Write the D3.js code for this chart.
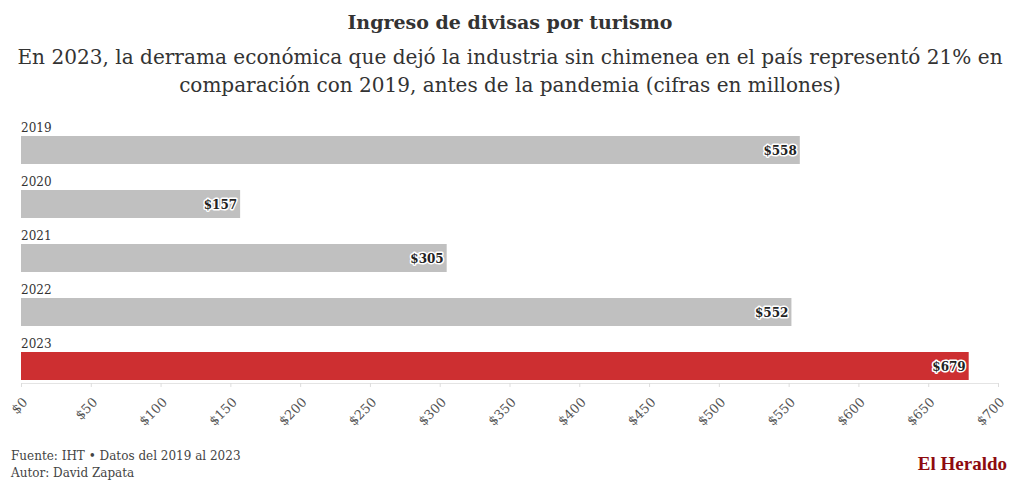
<!DOCTYPE html>
<html><head><meta charset="utf-8">
<script src="https://cdn.jsdelivr.net/npm/d3@7"></script>
<style>
body{margin:0;background:#fff;}
svg text{font-family:"DejaVu Serif",serif;}
</style></head>
<body><svg id="c" width="1020" height="492"></svg>
<script>
const years = ["2019","2020","2021","2022","2023"];
const values = [558,157,305,552,679];
const highlight = ["2023"];
const tickValues = [0,50,100,150,200,250,300,350,400,450,500,550,600,650,700];

const svg = d3.select("#c");
const W = 1020;
const x = d3.scaleLinear().domain([0,700]).range([21,998]);
const y = d3.scaleBand().domain(years).range([136-26,380]).paddingInner(0).paddingOuter(0);

svg.append("text").attr("x",W/2).attr("y",29).attr("text-anchor","middle")
  .attr("font-size",19).attr("font-weight","bold").attr("fill","#333")
  .text("Ingreso de divisas por turismo");
const sub = ["En 2023, la derrama económica que dejó la industria sin chimenea en el país representó 21% en",
  "comparación con 2019, antes de la pandemia (cifras en millones)"];
const subW = [986, 662];
sub.forEach((s,i)=>{
  const t = svg.append("text").attr("x",W/2).attr("y",64+i*28).attr("text-anchor","middle")
    .attr("font-size",20).attr("fill","#333").text(s);
  const len = t.node().getComputedTextLength();
  t.attr("font-size", 20*subW[i]/len);
});

const g = svg.append("g");
g.selectAll("text.yl").data(years).join("text").attr("class","yl")
  .attr("x",21).attr("y",d=>y(d)+22).attr("font-size",12).attr("fill","#333").text(d=>d);

g.selectAll("rect").data(years).join("rect")
  .attr("x",x(0)).attr("y",d=>y(d)+26).attr("height",28)
  .attr("width",(d,i)=>x(values[i])-x(0))
  .attr("fill",d=>highlight.includes(d)?"#cd2f31":"#c0c0c0");

g.selectAll("text.vl").data(years).join("text").attr("class","vl")
  .attr("x",(d,i)=>x(values[i])-3).attr("y",d=>y(d)+26+19).attr("text-anchor","end")
  .attr("font-size",12).attr("font-weight","bold").attr("fill","#222")
  .attr("stroke","#fff").attr("stroke-width",3).attr("paint-order","stroke").attr("stroke-linejoin","round")
  .text((d,i)=>"$"+values[i]);

const axis = d3.axisBottom(x).tickValues(tickValues).tickFormat(d=>"$"+d).tickSize(4).tickSizeOuter(0);
const ag = svg.append("g").attr("transform","translate(0,383)").call(axis);
ag.select(".domain").attr("stroke","#e4e4e4");
ag.selectAll(".tick line").attr("stroke","#ddd");
ag.selectAll(".tick text").style("font-family","DejaVu Serif, serif").attr("font-size",13).attr("fill","#555")
  .attr("text-anchor","end").attr("dy",0).attr("dx",0)
  .attr("transform","translate(2,15) rotate(-45)");

svg.append("text").attr("x",11).attr("y",460).attr("font-size",12).attr("fill","#444")
  .text("Fuente: IHT • Datos del 2019 al 2023");
svg.append("text").attr("x",11).attr("y",477).attr("font-size",12).attr("fill","#444")
  .text("Autor: David Zapata");
svg.append("text").attr("x",1007).attr("y",470).attr("text-anchor","end").attr("font-size",19)
  .style("font-family","'Liberation Serif', serif")
  .attr("font-weight","bold").attr("fill","#8e0b0f").text("El Heraldo");
</script></body></html>
